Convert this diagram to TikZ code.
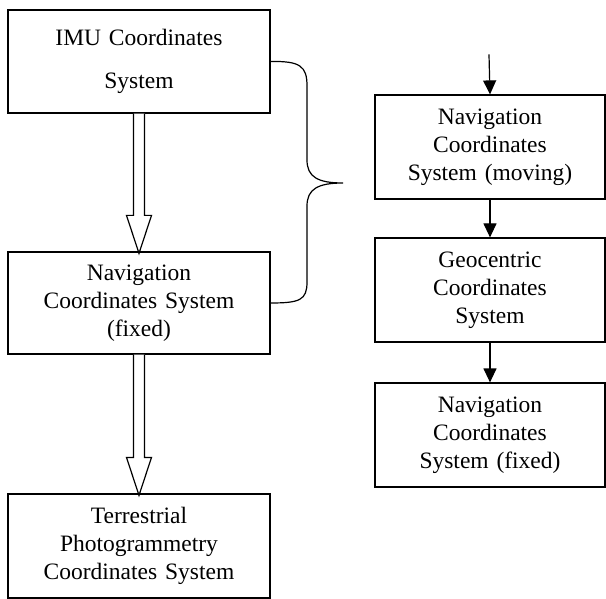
\documentclass[tikz,border=0pt]{standalone}
\usepackage{fontspec}
\setmainfont{Liberation Serif}
\usepackage{tikz}
\usetikzlibrary{arrows.meta, calc, positioning}
\tikzset{
  >={Triangle[width=13pt,length=14pt]}, % solid heads for the thin arrows
  box/.style={draw, line width=1.2pt, align=center, inner sep=2pt,
    font=\fontsize{23.5}{28}\selectfont},
  leftbox/.style={box, minimum width=262pt, text width=250pt},
  rightbox/.style={box, minimum width=230pt, minimum height=104pt, text width=220pt},
  fat/.style={draw, line width=1.2pt, fill=white, line join=miter},
  thin/.style={->, line width=1.2pt},
}

\begin{document}
\begin{tikzpicture}[x=1pt,y=-1pt]
  \useasboundingbox (0,0) rectangle (606,599);
  % left column
  \node[leftbox, minimum height=103pt, font=\fontsize{23.5}{43}\selectfont] (imu) at (139,61.5) {IMU Coordinates\\System};
  \node[leftbox, minimum height=102pt] (navfix) at (139,303) {Navigation\\Coordinates System\\(fixed)};
  \node[leftbox, minimum height=104pt] (terr) at (139,546) {Terrestrial\\Photogrammetry\\Coordinates System};
  % right column
  \node[rightbox] (navmov) at (490,147) {Navigation\\Coordinates\\System (moving)};
  \node[rightbox] (geo) at (490,290) {Geocentric\\Coordinates\\System};
  \node[rightbox] (navfixb) at (490,435) {Navigation\\Coordinates\\System (fixed)};

  % hollow arrows
  \foreach \a/\b in {imu/navfix, navfix/terr}{
    \path[fat] ($(\a.south)+(-5.5,0)$) -- ($(\b.north)+(-5.5,-36)$)
      -- ($(\b.north)+(-12.5,-36)$) -- ($(\b.north)+(0,2)$)
      -- ($(\b.north)+(12.5,-36)$) -- ($(\b.north)+(5.5,-36)$)
      -- ($(\a.south)+(5.5,0)$);
  }

  % brace
  \draw[line width=1.2pt] (imu.east) .. controls (300,61) and (307,66) .. (307,86)
    -- (307,160) .. controls (307,177) and (318,183) .. (343,183)
    .. controls (318,183) and (307,189) .. (307,206)
    -- (307,282) .. controls (307,300) and (300,303) .. (navfix.east);

  % thin arrows
  \coordinate (inp) at ($(navmov.north)+(-1,-40)$);
  \draw[thin] (inp) -- (navmov.north);
  \draw[thin] (navmov.south) -- (geo.north);
  \draw[thin] (geo.south) -- (navfixb.north);
\end{tikzpicture}
\end{document}
